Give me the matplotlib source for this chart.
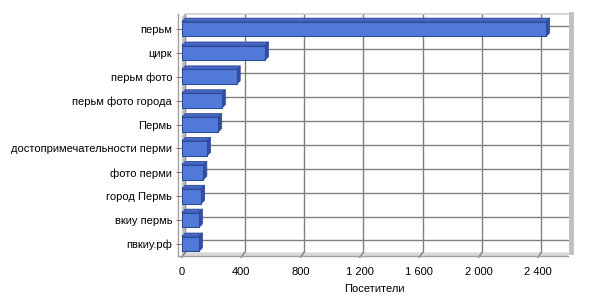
import matplotlib.pyplot as plt
from matplotlib.patches import Polygon

# данные
labels = ['перьм', 'цирк', 'перьм фото', 'перьм фото города', 'Пермь',
          'достопримечательности перми', 'фото перми', 'город Пермь',
          'вкиу пермь', 'пвкиу.рф']
visits = [2455, 560, 370, 270, 245, 170, 145, 130, 115, 115]
xticks = [0, 400, 800, 1200, 1600, 2000, 2400]
xtick_labels = ['0', '400', '800', '1 200', '1 600', '2 000', '2 400']

plt.rcParams['font.family'] = ['Liberation Sans', 'DejaVu Sans']

fig = plt.figure(figsize=(6, 3), dpi=100)
ax = fig.add_axes([0.303, 0.147, 0.643, 0.796])
xmax = 2600
n = len(labels)
ax.set_xlim(0, xmax)
ax.set_ylim(n - 0.5, -0.5)

# глубина 3D в пикселях -> в единицах данных
bb = ax.get_window_extent()
ux = xmax / bb.width
uy = n / bb.height
d = 3.5
ddx, ddy = d * ux, -d * uy
top, bottom = -0.5, n - 0.5
pos = list(range(n))

# задняя стенка: сетка
for v in xticks:
    ax.plot([v + ddx, v + ddx], [top + ddy, bottom + ddy],
            color='#808080', lw=1, zorder=1, clip_on=False)
for i in pos:
    ax.plot([ddx, xmax + ddx], [i + ddy, i + ddy],
            color='#808080', lw=1, zorder=1, clip_on=False)
ax.plot([ddx, xmax + ddx], [top + ddy, top + ddy], color='#d0d0d0',
        lw=1.2, zorder=1, clip_on=False)
ax.plot([xmax + ddx, xmax + ddx], [top + ddy, bottom + ddy],
        color='#c0c0c0', lw=3.5, zorder=1, clip_on=False)

# левая стенка и пол
ax.add_patch(Polygon([(0, bottom), (0, top), (ddx, top + ddy), (ddx, bottom + ddy)],
                     closed=True, facecolor='#c0c0c0', edgecolor='none',
                     zorder=1, clip_on=False))
ax.add_patch(Polygon([(0, bottom), (xmax, bottom), (xmax + ddx, bottom + ddy),
                      (ddx, bottom + ddy)],
                     closed=True, facecolor='#d8d8d8', edgecolor='none',
                     zorder=1, clip_on=False))
for v in xticks:
    ax.plot([v, v + ddx], [bottom + 1.5 * uy, bottom + ddy], color='#808080',
            lw=1, zorder=1, clip_on=False)
ax.plot([-4 * ux, -4 * ux], [top + ddy, bottom], color='#a0a0a0', lw=1,
        zorder=1, clip_on=False)
ax.plot([-4 * ux, xmax], [bottom, bottom], color='#a0a0a0', lw=1,
        zorder=1, clip_on=False)

h = 0.62
# столбцы: передняя грань
ax.barh(pos, visits, height=h, color='#5079d8', edgecolor='#2f4a9a',
        lw=0.8, zorder=3)
# верхняя и правая грани
for y, v in zip(pos, visits):
    y0, y1 = y - h / 2, y + h / 2
    ax.add_patch(Polygon([(0, y0), (v, y0), (v + ddx, y0 + ddy), (ddx, y0 + ddy)],
                         closed=True, facecolor='#4466c4', edgecolor='#2f4a9a',
                         lw=0.6, zorder=2, clip_on=False))
    ax.add_patch(Polygon([(v, y0), (v, y1), (v + ddx, y1 + ddy), (v + ddx, y0 + ddy)],
                         closed=True, facecolor='#34509f', edgecolor='#2f4a9a',
                         lw=0.6, zorder=2, clip_on=False))

for s in ax.spines.values():
    s.set_visible(False)
ax.set_xticks(xticks)
ax.set_xticklabels(xtick_labels)
ax.set_yticks(pos)
ax.set_yticklabels(labels)
ax.tick_params(axis='both', labelsize=8, colors='#808080', labelcolor='black')
ax.tick_params(axis='y', length=4, pad=3)
ax.tick_params(axis='x', length=0, pad=8)
ax.set_xlabel('Посетители', fontsize=8, labelpad=5)

fig.savefig('out.png', dpi=100)
